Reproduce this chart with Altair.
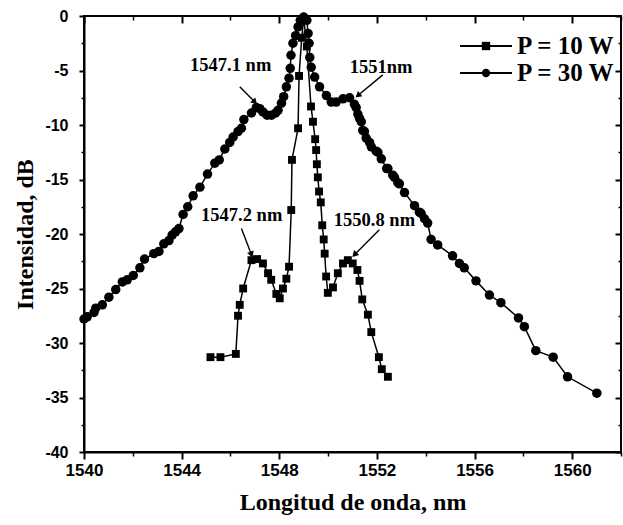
import math
import altair as alt
import pandas as pd

# ---------------- data ----------------
wl_10 = [1545.18, 1545.59, 1546.22, 1546.31, 1546.38, 1546.52, 1546.86, 1547.09, 1547.33, 1547.54,
         1547.67, 1547.88, 1548.02, 1548.15, 1548.29, 1548.40, 1548.49, 1548.52, 1548.77, 1548.81,
         1548.92, 1549.00, 1549.13, 1549.30, 1549.38, 1549.47, 1549.51, 1549.54, 1549.58, 1549.63,
         1549.70, 1549.76, 1549.82, 1549.86, 1549.92, 1549.99, 1550.20, 1550.40, 1550.61, 1550.81,
         1551.01, 1551.20, 1551.29, 1551.40, 1551.63, 1551.77, 1552.08, 1552.20, 1552.45]
db_10 = [-31.3, -31.3, -31.0, -27.5, -26.5, -25.0, -22.4, -22.3, -22.7, -23.6,
         -24.2, -25.5, -25.9, -25.0, -24.1, -23.0, -17.8, -13.2, -10.3, -5.5,
         -2.0, -0.2, -2.8, -8.3, -9.7, -11.3, -12.3, -13.6, -14.8, -16.1,
         -17.1, -19.2, -20.5, -21.8, -23.9, -25.4, -24.9, -23.6, -22.7, -22.4,
         -22.7, -23.3, -24.3, -26.0, -27.4, -29.0, -31.3, -32.4, -33.1]

wl_30 = [1540.00, 1540.13, 1540.41, 1540.48, 1540.75, 1541.02, 1541.30, 1541.57, 1541.77, 1542.02,
         1542.29, 1542.48, 1542.86, 1543.07, 1543.27, 1543.48, 1543.61, 1543.75, 1543.89, 1544.06,
         1544.25, 1544.47, 1544.75, 1545.06, 1545.36, 1545.54, 1545.77, 1545.97, 1546.11, 1546.31,
         1546.45, 1546.55, 1546.86, 1547.06, 1547.20, 1547.33, 1547.50, 1547.68, 1547.85, 1547.95,
         1548.09, 1548.18, 1548.29, 1548.40, 1548.45, 1548.48, 1548.56, 1548.67, 1548.77, 1548.86,
         1549.00, 1549.13, 1549.18, 1549.22, 1549.25, 1549.31, 1549.45, 1549.65, 1549.93, 1550.13,
         1550.33, 1550.61, 1550.88, 1551.08, 1551.15, 1551.22, 1551.29, 1551.36, 1551.42, 1551.49,
         1551.56, 1551.70, 1551.77, 1551.97, 1552.04, 1552.18, 1552.40, 1552.45, 1552.65, 1552.72,
         1552.86, 1552.92, 1553.13, 1553.54, 1553.74, 1553.81, 1553.95, 1554.08, 1554.22, 1554.49,
         1555.10, 1555.38, 1555.58, 1556.06, 1556.61, 1557.08, 1557.80, 1558.04, 1558.51, 1559.22,
         1559.81, 1561.01]
db_30 = [-27.8, -27.6, -27.2, -26.8, -26.5, -25.8, -25.1, -24.4, -24.2, -23.8,
         -23.1, -22.3, -21.8, -21.6, -20.9, -20.6, -20.1, -19.8, -19.5, -18.2,
         -17.5, -16.5, -15.7, -14.5, -13.5, -13.2, -12.2, -11.6, -11.1, -10.6,
         -10.3, -9.5, -8.9, -8.4, -8.5, -8.8, -9.1, -9.1, -8.9, -8.65,
         -8.0, -7.4, -6.5, -5.7, -4.8, -3.6, -2.5, -1.8, -1.0, -0.4,
         -0.1, -0.4, -1.6, -2.5, -3.8, -4.7, -5.6, -6.5, -7.3, -7.9,
         -7.9, -7.6, -7.5, -8.1, -8.4, -9.0, -9.4, -9.7, -10.5, -10.6,
         -11.2, -11.6, -12.0, -12.4, -12.5, -13.1, -14.0, -14.0, -14.6, -14.8,
         -15.3, -15.4, -16.2, -17.4, -18.0, -18.1, -18.6, -19.0, -20.5, -21.0,
         -22.0, -22.7, -23.1, -24.3, -25.6, -26.3, -27.7, -28.5, -30.7, -31.3,
         -33.1, -34.6]

series_names = ["P = 10 W", "P = 30 W"]
series_shapes = ["square", "circle"]

x_major = [1540, 1544, 1548, 1552, 1556, 1560]
x_minor = [1542, 1546, 1550, 1554, 1558, 1562]
y_major = [0, -5, -10, -15, -20, -25, -30, -35, -40]
y_minor = [-2.5, -7.5, -12.5, -17.5, -22.5, -27.5, -32.5, -37.5]

ann_text = ["1547.1 nm", "1551nm", "1547.2 nm", "1550.8 nm"]
ann_x = [1546.01, 1552.17, 1546.46, 1551.90]
ann_y = [-4.5, -4.7, -18.3, -18.7]
arr_x0 = [1546.38, 1552.24, 1546.45, 1552.10]
arr_y0 = [-6.5, -5.4, -19.5, -19.6]
arr_x1 = [1547.00, 1551.22, 1546.86, 1551.08]
arr_y1 = [-7.9, -7.3, -21.9, -21.9]

# ---------------- chart ----------------
W, H = 537, 436
X_DOM = [1540, 1562]
Y_DOM = [-40, 0]
xs = alt.Scale(domain=X_DOM, nice=False, zero=False)
ys = alt.Scale(domain=Y_DOM, nice=False, zero=False)

SANS = "Liberation Sans"
SERIF = "Liberation Serif"

df10 = pd.DataFrame({"wl": wl_10, "db": db_10, "i": range(len(wl_10))})
df30 = pd.DataFrame({"wl": wl_30, "db": db_30, "i": range(len(wl_30))})
df_all = pd.concat([df10, df30])

def series_layers(df, shape, size):
    line = alt.Chart(df).mark_line(color="black", strokeWidth=1.5).encode(
        x=alt.X("wl:Q", scale=xs, axis=None),
        y=alt.Y("db:Q", scale=ys, axis=None),
        order="i:Q")
    pts = alt.Chart(df).mark_point(shape=shape, filled=True, color="black", size=size, opacity=1).encode(
        x=alt.X("wl:Q", scale=xs, axis=None),
        y=alt.Y("db:Q", scale=ys, axis=None))
    return [line, pts]

def axis_layer(xaxis=None, yaxis=None):
    return alt.Chart(df_all).mark_point(opacity=0).encode(
        x=alt.X("wl:Q", scale=xs, axis=xaxis),
        y=alt.Y("db:Q", scale=ys, axis=yaxis))

common = dict(domainColor="black", tickColor="black", grid=False)

ax_bottom_major = alt.Axis(orient="bottom", values=x_major, tickSize=7, tickWidth=2, domainWidth=2,
                           labelFont=SANS, labelFontWeight="bold", labelFontSize=17, labelColor="black",
                           labelPadding=3, labelFlush=False, labelExpr="'' + datum.value",
                           title="Longitud de onda, nm", titleFont=SERIF, titleFontWeight="bold",
                           titleFontSize=24, titleColor="black", titlePadding=12, **common)
ax_bottom_minor = alt.Axis(orient="bottom", values=x_minor, tickSize=4, tickWidth=1.5, domain=False,
                           labels=False, title=None, **common)
ax_top_major = alt.Axis(orient="top", values=x_major, tickSize=7, tickWidth=2, offset=-7, domain=False,
                        labels=False, title=None, **common)
ax_top_minor = alt.Axis(orient="top", values=x_minor, tickSize=4, tickWidth=1.5, offset=-4, domain=False,
                        labels=False, title=None, **common)
ax_left_major = alt.Axis(orient="left", values=y_major, tickSize=5, tickWidth=2, domainWidth=2,
                         labelFont=SANS, labelFontWeight="bold", labelFontSize=16, labelColor="black",
                         labelPadding=11, labelExpr="'' + datum.value",
                         title="Intensidad, dB", titleFont=SERIF, titleFontWeight="bold",
                         titleFontSize=24, titleColor="black", titlePadding=7, **common)
ax_left_minor = alt.Axis(orient="left", values=y_minor, tickSize=3, tickWidth=1.5, domain=False,
                         labels=False, title=None, **common)
ax_right_major = alt.Axis(orient="right", values=y_major, tickSize=6, tickWidth=2, offset=-6, domain=False,
                          labels=False, title=None, **common)
ax_right_minor = alt.Axis(orient="right", values=y_minor, tickSize=3, tickWidth=1.5, offset=-3, domain=False,
                          labels=False, title=None, **common)

axis_layers = [
    axis_layer(xaxis=ax_bottom_major, yaxis=ax_left_major),
    axis_layer(xaxis=ax_bottom_minor, yaxis=ax_left_minor),
    axis_layer(xaxis=ax_top_major, yaxis=ax_right_major),
    axis_layer(xaxis=ax_top_minor, yaxis=ax_right_minor),
]

# annotations
px_per_x = W / (X_DOM[1] - X_DOM[0])
px_per_y = H / (Y_DOM[1] - Y_DOM[0])
angles = []
for x0, y0, x1, y1 in zip(arr_x0, arr_y0, arr_x1, arr_y1):
    dx = (x1 - x0) * px_per_x
    dy = -(y1 - y0) * px_per_y
    angles.append(math.degrees(math.atan2(dx, -dy)) % 360)

ann = pd.DataFrame({"t": ann_text, "x": ann_x, "y": ann_y,
                    "x0": arr_x0, "y0": arr_y0, "x1": arr_x1, "y1": arr_y1, "ang": angles})

ann_text_layer = alt.Chart(ann).mark_text(font=SERIF, fontWeight="bold", fontSize=18.5, color="black",
                                          baseline="middle", align="center").encode(
    x=alt.X("x:Q", scale=xs, axis=None), y=alt.Y("y:Q", scale=ys, axis=None), text="t:N")
ann_arrow = alt.Chart(ann).mark_rule(color="black", strokeWidth=1.4).encode(
    x=alt.X("x0:Q", scale=xs, axis=None), y=alt.Y("y0:Q", scale=ys, axis=None),
    x2="x1:Q", y2="y1:Q")
ann_head = alt.Chart(ann).mark_point(shape="triangle-up", filled=True, color="black", size=50, opacity=1).encode(
    x=alt.X("x1:Q", scale=xs, axis=None), y=alt.Y("y1:Q", scale=ys, axis=None),
    angle=alt.Angle("ang:Q", scale=None))

# legend (drawn as marks)
leg_layers = []
for k, (lab, shp) in enumerate(zip(series_names, series_shapes)):
    yv = 30 + 27 * k
    base = alt.Chart(pd.DataFrame({"t": [lab]}))
    leg_layers.append(base.mark_rule(color="black", strokeWidth=1.8).encode(
        x=alt.value(376), x2=alt.value(428), y=alt.value(yv)))
    leg_layers.append(base.mark_point(shape=shp, filled=True, color="black", size=70, opacity=1).encode(
        x=alt.value(402), y=alt.value(yv)))
    leg_layers.append(base.mark_text(align="left", baseline="middle", font=SERIF, fontWeight="bold",
                                     fontSize=25, color="black").encode(
        x=alt.value(433), y=alt.value(yv), text="t:N"))

data_layers = series_layers(df10, "square", 62) + series_layers(df30, "circle", 90)

chart = alt.layer(
    *axis_layers, ann_text_layer, ann_arrow, ann_head, *data_layers, *leg_layers
).resolve_axis(x="independent", y="independent").properties(
    width=W, height=H,
    padding={"left": 84, "top": 16, "right": 2, "bottom": 73},
    autosize=alt.AutoSizeParams(type="none"),
    background="white",
).configure_view(stroke="black", strokeWidth=2)

chart.save("out.html", embed_options={"renderer": "svg", "actions": False})
